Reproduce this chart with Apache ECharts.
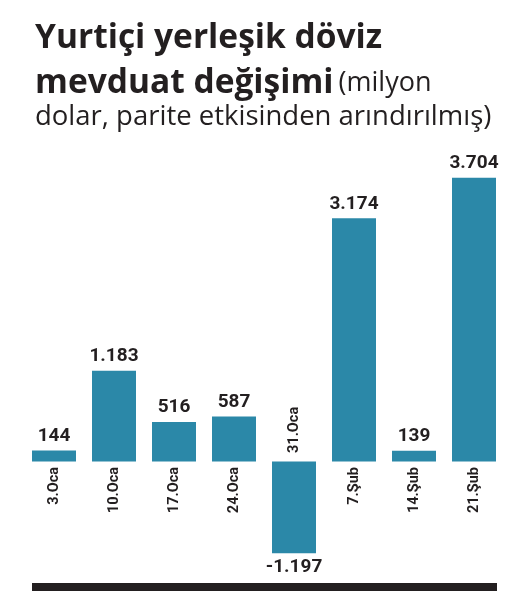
<!DOCTYPE html>
<html>
<head>
<meta charset="utf-8">
<script src="https://cdn.jsdelivr.net/npm/echarts@6/dist/echarts.min.js"></script>
<style>
html,body{margin:0;padding:0;background:#fff;}
#c{width:517px;height:601px;}
</style>
</head>
<body>
<div id="c"></div>
<script>
var titleLine1 = 'Yurtiçi yerleşik döviz';
var titleLine2Bold = 'mevduat değişimi';
var titleLine2Reg = '(milyon';
var titleLine3 = 'dolar, parite etkisinden arındırılmış)';

var categories = ['3.Oca','10.Oca','17.Oca','24.Oca','31.Oca','7.Şub','14.Şub','21.Şub'];
var values = [144, 1183, 516, 587, -1197, 3174, 139, 3704];

function fmt(v){
  var s = Math.abs(v).toString().replace(/\B(?=(\d{3})+(?!\d))/g, '.');
  return (v < 0 ? '-' : '') + s;
}

var chart = echarts.init(document.getElementById('c'), null, {renderer:'canvas'});
var ink = '#231f20';
var richStyles = {
  b:{fontFamily:'"Open Sans"', fontWeight:'bold', fontSize:33.5, color:ink, lineHeight:36},
  r:{fontFamily:'"Open Sans"', fontWeight:'normal', fontSize:27, color:ink, lineHeight:36},
  r3:{fontFamily:'"Open Sans"', fontWeight:'normal', fontSize:27.5, color:ink, lineHeight:30}
};

chart.setOption({
  backgroundColor:'#ffffff',
  animation:false,
  title:[
    {left:30, top:15, text:'{b|' + titleLine1 + '}', textStyle:{rich:richStyles}},
    {left:30, top:60, text:'{b|' + titleLine2Bold + '} {r|' + titleLine2Reg + '}', textStyle:{rich:richStyles}},
    {left:30, top:97, text:'{r3|' + titleLine3 + '}', textStyle:{rich:richStyles}}
  ],
  grid:{left:24, right:13, top:155, bottom:24.6, containLabel:false},
  xAxis:{
    type:'category', data:categories,
    axisLine:{show:false}, axisTick:{show:false}, axisLabel:{show:false}, splitLine:{show:false}
  },
  yAxis:{
    type:'value', min:-1500, max:4000,
    show:false, splitLine:{show:false}
  },
  series:[
    {
      type:'bar', barWidth:44,
      data: values.map(function(v){
        return {value:v, label:{position: v<0 ? 'bottom' : 'top'}};
      }),
      itemStyle:{color:'#2b88a8'},
      label:{
        show:true, distance:5,
        fontFamily:'Roboto', fontWeight:'bold', fontSize:19, color:ink,
        formatter:function(p){return fmt(p.value);}
      }
    },
    {
      type:'scatter', symbolSize:1, silent:true,
      itemStyle:{color:'rgba(0,0,0,0)'},
      data: values.map(function(v,i){
        return {
          value:[i,0],
          label: v<0
            ? {position:'top', distance:8, align:'left', verticalAlign:'middle'}
            : {position:'bottom', distance:5, align:'right', verticalAlign:'middle'}
        };
      }),
      label:{
        show:true, rotate:90, opacity:1,
        fontFamily:'Roboto', fontWeight:'bold', fontSize:14.5, color:ink,
        formatter:function(p){return categories[p.dataIndex];}
      }
    }
  ],
  graphic:[
    {type:'rect', shape:{x:32, y:583, width:465, height:8}, style:{fill:ink}}
  ]
});
</script>
</body>
</html>
